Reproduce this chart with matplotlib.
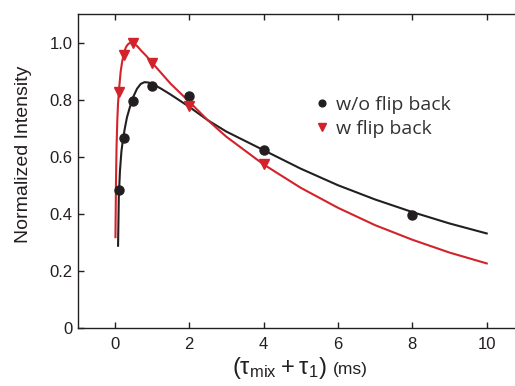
import matplotlib.pyplot as plt
import numpy as np

# measured points
t_pts = [0.125, 0.25, 0.5, 1, 2, 4, 8]
wo_pts = [0.484, 0.669, 0.797, 0.851, 0.815, 0.625, 0.399]
t_pts_w = [0.125, 0.25, 0.5, 1, 2, 4]
w_pts = [0.83, 0.958, 0.999, 0.93, 0.78, 0.575]

# fitted curves
t_fit_wo = [0.09, 0.11, 0.14, 0.18, 0.22, 0.27, 0.33, 0.4, 0.5, 0.6, 0.7, 0.8, 0.9, 1.0,
            1.25, 1.5, 2, 2.5, 3, 4, 5, 6, 7, 8, 9, 10]
fit_wo = [0.29, 0.46, 0.55, 0.62, 0.66, 0.70, 0.74, 0.772, 0.812, 0.84, 0.857, 0.863, 0.862, 0.858,
          0.84, 0.82, 0.777, 0.73, 0.69, 0.625, 0.56, 0.502, 0.452, 0.408, 0.368, 0.333]
t_fit_w = [0.02, 0.035, 0.05, 0.07, 0.09, 0.125, 0.16, 0.2, 0.25, 0.3, 0.35, 0.4, 0.45, 0.5,
           0.6, 0.7, 0.85, 1.0, 1.25, 1.5, 2, 2.5, 3, 4, 5, 6, 7, 8, 9, 10]
fit_w = [0.32, 0.52, 0.64, 0.73, 0.79, 0.85, 0.9, 0.935, 0.965, 0.985, 0.995, 1.0, 1.0, 0.998,
         0.99, 0.975, 0.955, 0.932, 0.895, 0.858, 0.795, 0.73, 0.672, 0.575, 0.493, 0.423, 0.362, 0.311, 0.266, 0.228]

xticks = [0, 2, 4, 6, 8, 10]
yticks = [0, 0.2, 0.4, 0.6, 0.8, 1.0]
ytick_labels = ['0', '0.2', '0.4', '0.6', '0.8', '1.0']

blk = '#231f20'
red = '#d2232a'

plt.rcParams['font.family'] = ['Liberation Sans', 'DejaVu Sans']
plt.rcParams['mathtext.default'] = 'regular'

fig = plt.figure(figsize=(5.15, 3.86), dpi=100)
ax = fig.add_axes([0.1505, 0.149, 0.8668, 0.8148])

ax.plot(t_fit_wo, fit_wo, color=blk, lw=1.5, zorder=2)
ax.plot(t_fit_w, fit_w, color=red, lw=1.5, zorder=2)
ax.plot(t_pts, wo_pts, 'o', color=blk, ms=6.5, zorder=3, label='w/o flip back')
ax.plot(t_pts_w, w_pts, 'v', color=red, ms=7, zorder=3, label='w flip back')

ax.set_xlim(-1, 11)
ax.set_ylim(0, 1.102)
ax.set_xticks(xticks)
ax.set_yticks(yticks)
ax.set_yticklabels(ytick_labels)
ax.tick_params(direction='in', length=4, width=1, labelsize=12, top=True, right=True, colors=blk)
ax.tick_params(axis='x', pad=6)
for s in ax.spines.values():
    s.set_linewidth(1)
    s.set_color(blk)

ax.set_ylabel('Normalized Intensity', fontsize=14, color=blk)
ax.yaxis.set_label_coords(-0.102, 0.553)

fig.text(0.542, 0.032, r'$(\tau_{mix}+\tau_{1})$', fontsize=17, ha='center', va='baseline', color=blk)
fig.text(0.647, 0.03, '(ms)', fontsize=12.5, ha='left', va='baseline', color=blk)

leg = ax.legend(loc='upper left', bbox_to_anchor=(0.488, 0.795), frameon=False,
                prop={'family': 'Open Sans', 'size': 14}, handletextpad=0.3,
                labelspacing=0.3, handlelength=0.9, markerscale=0.75)
for tx in leg.get_texts():
    tx.set_color('#333333')

fig.savefig('out.png', dpi=100)
